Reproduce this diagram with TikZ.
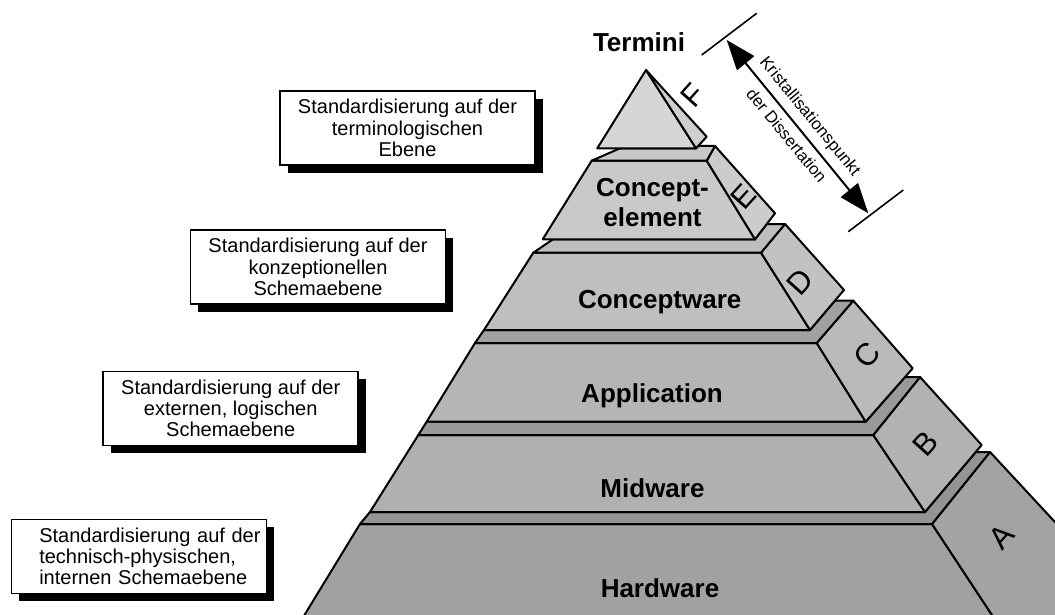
\documentclass[tikz,border=0pt]{standalone}
\usepackage{fontspec}
\setmainfont{Liberation Sans}
\usetikzlibrary{arrows.meta,shadows}
\definecolor{hwfront}{gray}{0.63}
\definecolor{hwside}{gray}{0.64}
\definecolor{hwtop}{gray}{0.58}
\definecolor{mwfront}{gray}{0.69}
\definecolor{mwside}{gray}{0.70}
\definecolor{mwtop}{gray}{0.60}
\definecolor{apfront}{gray}{0.71}
\definecolor{apside}{gray}{0.73}
\definecolor{aptop}{gray}{0.63}
\definecolor{cwfront}{gray}{0.75}
\definecolor{cwside}{gray}{0.76}
\definecolor{cwtop}{gray}{0.74}
\definecolor{cefront}{gray}{0.79}
\definecolor{ceside}{gray}{0.80}
\definecolor{cetop}{gray}{0.78}
\definecolor{tefront}{gray}{0.84}
\definecolor{teside}{gray}{0.81}
\tikzset{
  face/.style={draw, line width=1pt, line join=round},
  infobox/.style={draw, fill=white, line width=0.8pt, minimum width=127.5pt, minimum height=37pt,
    font=\fontsize{10}{10.7}\selectfont,
    drop shadow={shadow xshift=3.8pt, shadow yshift=-3.8pt, opacity=1, fill=black}},
  layerlabel/.style={font=\fontsize{13}{15}\selectfont\bfseries, align=center},
  sideletter/.style={font=\fontsize{15.5}{15.5}\selectfont, rotate=48},
}
\begin{document}
\begin{tikzpicture}[x=0.5pt, y=-0.5pt]
\useasboundingbox (0,0) rectangle (1055,615);
\clip (0,0) rectangle (1055,615);

\filldraw [face, fill=hwfront] (252.6,700) -- (360,524) -- (932,524) -- (1048,700) -- cycle;
\filldraw [face, fill=hwside] (932,524) -- (990,452) -- (1144,618) -- (1048,700) -- cycle;
\filldraw [face, fill=hwtop] (360,524) -- (932,524) -- (990,452) -- (975.8,452) -- (925,512) -- (370,512) -- cycle;

\filldraw [face, fill=mwfront] (370,512) -- (418.3,435) -- (873.3,435) -- (925,512) -- cycle;
\filldraw [face, fill=mwside] (873.3,435) -- (920,377) -- (981.7,445) -- (925,512) -- cycle;
\filldraw [face, fill=mwtop] (418.3,435) -- (873.3,435) -- (920,377) -- (905,377) -- (865.7,421.7) -- (426.7,421.7) -- cycle;

\filldraw [face, fill=apfront] (426.7,421.7) -- (475,343) -- (816.7,343) -- (865.7,421.7) -- cycle;
\filldraw [face, fill=apside] (816.7,343) -- (853.3,300.7) -- (912.7,368.3) -- (865.7,421.7) -- cycle;
\filldraw [face, fill=aptop] (475,343) -- (816.7,343) -- (853.3,300.7) -- (834.9,300.7) -- (810,330) -- (484,330) -- cycle;

\filldraw [face, fill=cwfront] (484,330) -- (533.3,252.7) -- (761,252.7) -- (810,330) -- cycle;
\filldraw [face, fill=cwside] (761,252.7) -- (785,224) -- (844,290) -- (810,330) -- cycle;
\filldraw [face, fill=cwtop] (533.3,252.7) -- (761,252.7) -- (785,224) -- (766.8,224) -- (755,239.3) -- (553,239.3) -- cycle;

\filldraw [face, fill=cefront] (542.7,239.3) -- (591.7,160.7) -- (706.7,160.7) -- (755,239.3) -- cycle;
\filldraw [face, fill=ceside] (706.7,160.7) -- (715,146) -- (775,213.3) -- (755,239.3) -- cycle;
\filldraw [face, fill=cetop] (591.7,160.7) -- (706.7,160.7) -- (715,146) -- (698.1,146) -- (696,148.3) -- (620,148.3) -- cycle;

\filldraw [face, fill=tefront] (597.3,148.3) -- (646,70) -- (696,148.3) -- cycle;
\filldraw [face, fill=teside] (646,70) -- (706.7,136.7) -- (696,148.3) -- cycle;

\node [layerlabel, anchor=base] (hardware) at (660,597) {Hardware};
\node [layerlabel, anchor=base] (midware) at (652.5,497) {Midware};
\node [layerlabel, anchor=base] (application) at (652,402) {Application};
\node [layerlabel, anchor=base] (conceptware) at (659.7,308) {Conceptware};
\node [layerlabel] (conceptelement) at (652.5,202.7) {Concept-\\element};
\node [layerlabel, anchor=base] (termini) at (639,51.7) {Termini};

\node [sideletter] (sideA) at (1001.7,536.7) {A};
\node [sideletter] (sideB) at (925,443.3) {B};
\node [sideletter] (sideC) at (866.7,355) {C};
\node [sideletter] (sideD) at (800,281.7) {D};
\node [sideletter] (sideE) at (743.3,196.7) {E};
\node [sideletter] (sideF) at (693.3,95) {F};

\node [infobox, align=center] (stdterm) at (407.5,128) {Standardisierung auf der\\terminologischen\\Ebene};
\node [infobox, align=center] (stdkonz) at (318,267) {Standardisierung auf der\\konzeptionellen\\Schemaebene};
\node [infobox, align=center] (stdext) at (230.7,408.3) {Standardisierung auf der\\externen, logischen\\Schemaebene};
\node [infobox, align=left, text width=99.5pt, inner xsep=14pt] (stdtech) at (138.8,556.3)
  {Standardisierung~auf~der\\technisch-physischen,\\internen~Schemaebene};

\coordinate (tickup1) at (701.7,55);
\coordinate (tickup2) at (756.7,13.3);
\coordinate (tickdown1) at (848.3,231.7);
\coordinate (tickdown2) at (903.3,190);
\coordinate (krisup) at (726.7,40);
\coordinate (krisdown) at (868.3,213.3);
\draw [line width=0.8pt] (tickup1) -- (tickup2);
\draw [line width=0.8pt] (tickdown1) -- (tickdown2);
\draw [{Triangle[length=15pt,width=11pt]}-{Triangle[length=15pt,width=11pt]}, line width=1pt] (krisup) --
  node [sloped, above, font=\fontsize{8.4}{9}\selectfont] (kristall) {Kristallisationspunkt}
  node [sloped, below, font=\fontsize{8.3}{9}\selectfont] (disser) {der Dissertation} (krisdown);
\end{tikzpicture}
\end{document}
